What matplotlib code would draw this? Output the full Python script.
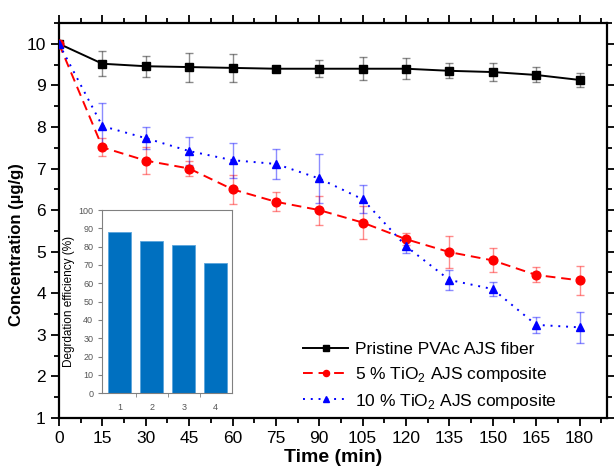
"""Concentration vs time with degradation-efficiency inset."""

import matplotlib

matplotlib.use("Agg")
import matplotlib.pyplot as plt  # noqa: E402

plt.rcParams["font.family"] = ["Liberation Sans", "DejaVu Sans"]
plt.rcParams["mathtext.fontset"] = "custom"
plt.rcParams["mathtext.rm"] = "Liberation Sans"

time_min = [0, 15, 30, 45, 60, 75, 90, 105, 120, 135, 150, 165, 180]

pristine = [10.0, 9.52, 9.46, 9.44, 9.42, 9.40, 9.40, 9.40, 9.40, 9.35, 9.32, 9.25, 9.13]
pristine_err = [0.0, 0.30, 0.25, 0.35, 0.33, 0.05, 0.20, 0.28, 0.25, 0.18, 0.22, 0.18, 0.17]

tio2_5 = [10.0, 7.51, 7.19, 7.00, 6.50, 6.20, 6.00, 5.70, 5.30, 4.99, 4.79, 4.44, 4.31]
tio2_5_err = [0.0, 0.22, 0.33, 0.18, 0.35, 0.23, 0.35, 0.39, 0.14, 0.38, 0.29, 0.18, 0.35]

tio2_10 = [10.0, 8.02, 7.73, 7.42, 7.20, 7.11, 6.76, 6.26, 5.13, 4.32, 4.10, 3.24, 3.18]
tio2_10_err = [0.0, 0.55, 0.26, 0.34, 0.42, 0.37, 0.60, 0.34, 0.17, 0.23, 0.16, 0.19, 0.38]

inset_samples = [1, 2, 3, 4]
inset_efficiency = [88, 83, 81, 71]

series = [
    (pristine, pristine_err, "Pristine PVAc AJS fiber", "black", "s", "-"),
    (tio2_5, tio2_5_err, "5 % TiO$_2$ AJS composite", "red", "o", (0, (5, 3))),
    (tio2_10, tio2_10_err, "10 % TiO$_2$ AJS composite", "blue", "^", (0, (1, 3))),
]

fig = plt.figure(figsize=(6.14, 4.73), dpi=100)
ax = fig.add_axes([0.0961, 0.1163, 0.8925, 0.8351])

for values, errs, label, color, marker, style in series:
    ax.errorbar(time_min, values, yerr=errs, fmt="none", ecolor=color,
                alpha=0.45, elinewidth=1.0, capsize=3.2, capthick=1.0, zorder=2)
    ax.plot(time_min, values, color=color, linestyle=style, linewidth=1.4,
            marker=marker, markersize=6.3, label=label, zorder=3)

ax.set_xlim(0, 189.5)
ax.set_ylim(1, 10.5)
ax.set_xticks(range(0, 181, 15))
ax.set_xticks([7.5 + 15 * i for i in range(13)], minor=True)
ax.set_yticks(range(1, 11))
ax.set_yticks([1.5 + i for i in range(10)], minor=True)
ax.tick_params(which="both", direction="out", top=True, right=True,
               labeltop=False, labelright=False, width=1.3, labelsize=12.5)
ax.tick_params(which="major", length=6)
ax.tick_params(which="minor", length=3.5)
for spine in ax.spines.values():
    spine.set_linewidth(1.6)

ax.set_xlabel("Time (min)", fontsize=14, fontweight="bold", labelpad=2)
ax.set_ylabel("Concentration (µg/g)", fontsize=12, fontweight="bold")
ax.yaxis.set_label_coords(-0.064, 0.44)

ax.legend(loc="upper left", bbox_to_anchor=(0.43, 0.215), frameon=False,
          fontsize=12.5, handlelength=2.6, labelspacing=0.45, borderpad=0,
          handletextpad=0.4, markerscale=0.7)

# inset bar chart
inset = fig.add_axes([0.1666, 0.1685, 0.2107, 0.3875])
inset.bar(inset_samples, inset_efficiency, width=0.72, color="#0070C0",
          edgecolor="#5aa5dc", linewidth=0.6)
inset.set_xlim(0.45, 4.5)
inset.set_ylim(0, 100)
inset.set_yticks(range(0, 101, 10))
inset.set_xticks(inset_samples)
inset.set_xticks([1.5, 2.5, 3.5], minor=True)
inset.tick_params(axis="x", which="major", length=0, pad=7)
inset.tick_params(axis="x", which="minor", length=3, color="#808080")
inset.tick_params(axis="y", length=3, color="#808080")
inset.tick_params(labelsize=6.5, labelcolor="#555555")
inset.set_ylabel("Degrdation efficiency (%)", fontsize=8.5, labelpad=2)
for side in ("top", "right"):
    inset.spines[side].set_linestyle((0, (1, 1)))
for spine in inset.spines.values():
    spine.set_color("#808080")
    spine.set_linewidth(0.8)

fig.savefig("out.png", dpi=100)
plt.close(fig)
